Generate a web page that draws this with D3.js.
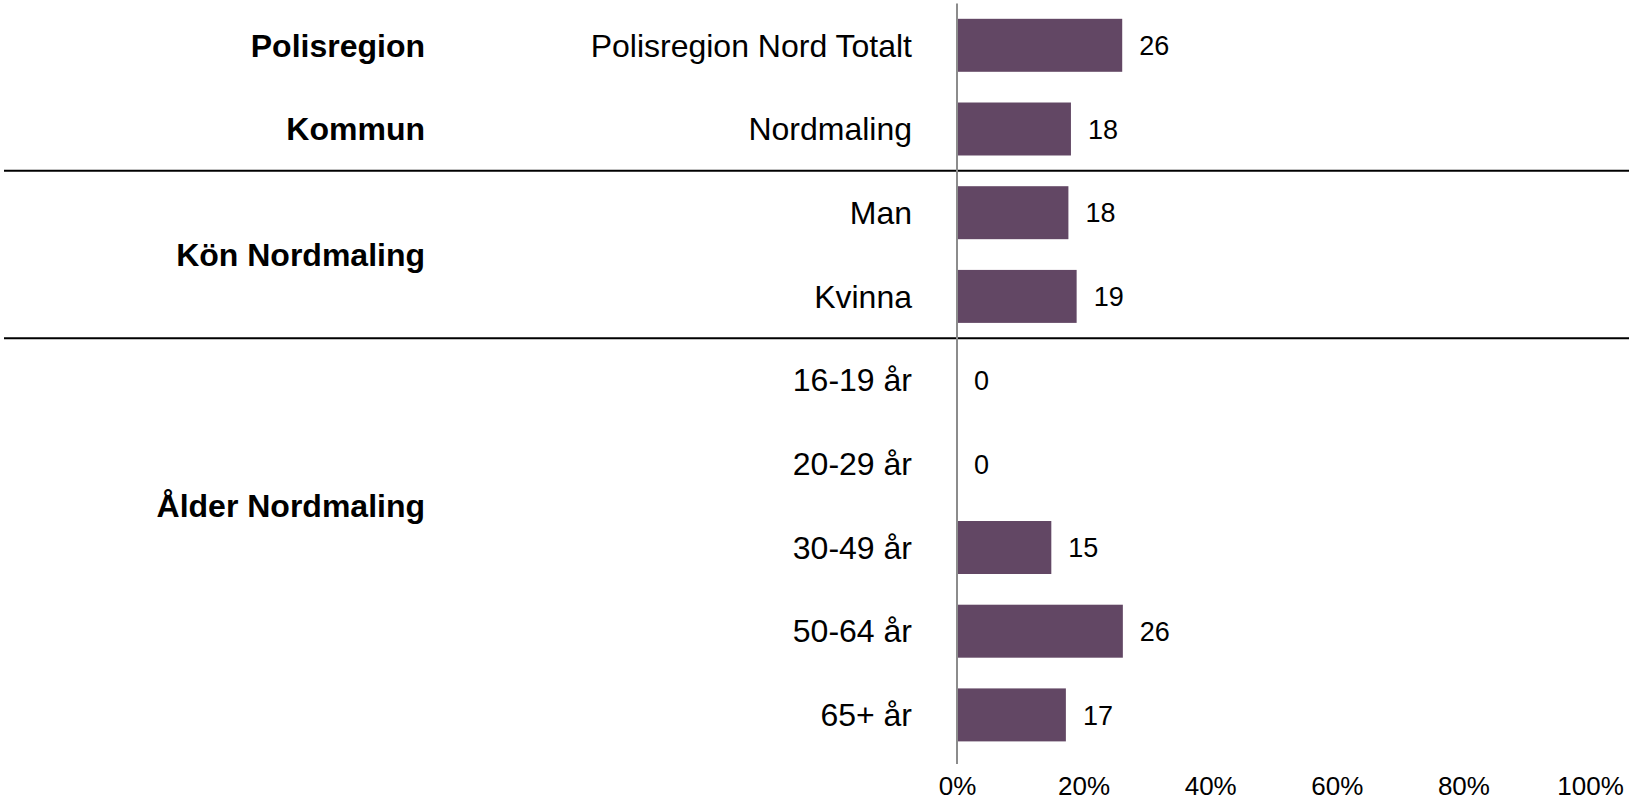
<!DOCTYPE html>
<html>
<head>
<meta charset="utf-8">
<script src="https://cdn.jsdelivr.net/npm/d3@7"></script>
<style>
  html, body { margin: 0; padding: 0; background: #fff; }
  svg { display: block; }
  text { font-family: "Liberation Sans", Arial, sans-serif; fill: #000; }
</style>
</head>
<body>
<svg id="chart" width="1629" height="803"></svg>
<script>
// ---- data ----
const categories = ["Polisregion Nord Totalt", "Nordmaling", "Man", "Kvinna",
  "16-19 år", "20-29 år", "30-49 år", "50-64 år", "65+ år"];
const values = [26.1, 18.0, 17.6, 18.9, 0, 0, 14.9, 26.2, 17.2];
const valueLabels = ["26", "18", "18", "19", "0", "0", "15", "26", "17"];
const groupLabels = ["Polisregion", "Kommun", "Kön Nordmaling", "Ålder Nordmaling"];
const groupAnchor = [["Polisregion Nord Totalt"], ["Nordmaling"], ["Man", "Kvinna"], ["20-29 år", "30-49 år"]];
const separatorsAfter = ["Nordmaling", "Kvinna"];
const xTicks = [0, 20, 40, 60, 80, 100];

// ---- layout ----
const svg = d3.select("#chart");
const x = d3.scaleLinear().domain([0, 100]).range([957, 1590]);
const y = d3.scaleBand().domain(categories).range([3.45, 756.75])
  .paddingInner(0.367).paddingOuter(0.1835);
const step = y.step();
const yc = c => y(c) + y.bandwidth() / 2;

// separators
svg.selectAll("line.sep").data(separatorsAfter).join("line")
  .attr("class", "sep")
  .attr("x1", 4).attr("x2", 1629)
  .attr("y1", d => yc(d) + step / 2).attr("y2", d => yc(d) + step / 2)
  .attr("stroke", "#000").attr("stroke-width", 2);

// bars
svg.selectAll("rect.bar").data(categories).join("rect")
  .attr("class", "bar")
  .attr("x", x(0))
  .attr("y", d => y(d))
  .attr("width", (d, i) => x(values[i]) - x(0))
  .attr("height", y.bandwidth())
  .attr("fill", "#624764");

// axis vertical line
svg.append("line")
  .attr("x1", x(0)).attr("x2", x(0))
  .attr("y1", 3.5).attr("y2", 764)
  .attr("stroke", "#8c8c8c").attr("stroke-width", 2);

// category labels
svg.selectAll("text.cat").data(categories).join("text")
  .attr("class", "cat")
  .attr("x", 912)
  .attr("y", d => yc(d))
  .attr("dy", "0.35em")
  .attr("text-anchor", "end")
  .style("font-size", "32px")
  .text(d => d);

// value labels
svg.selectAll("text.val").data(categories).join("text")
  .attr("class", "val")
  .attr("x", (d, i) => x(values[i]) + 17)
  .attr("y", d => yc(d))
  .attr("dy", "0.36em")
  .style("font-size", "27px")
  .text((d, i) => valueLabels[i]);

// group labels
svg.selectAll("text.grp").data(groupLabels).join("text")
  .attr("class", "grp")
  .attr("x", 425)
  .attr("y", (d, i) => d3.mean(groupAnchor[i], c => yc(c)))
  .attr("dy", "0.35em")
  .attr("text-anchor", "end")
  .style("font-size", "32px")
  .style("font-weight", "bold")
  .text(d => d);

// x axis tick labels
const axis = d3.axisBottom(x).tickValues(xTicks).tickSize(0).tickPadding(0)
  .tickFormat(d => d + "%");
const gAxis = svg.append("g").attr("transform", "translate(0,777)").call(axis);
gAxis.select(".domain").remove();
gAxis.selectAll("text")
  .style("font-size", "26px")
  .style("font-family", "'Liberation Sans', Arial, sans-serif")
  .attr("fill", "#000")
  .attr("dy", "0.71em")
  .attr("y", 0);
</script>
</body>
</html>
